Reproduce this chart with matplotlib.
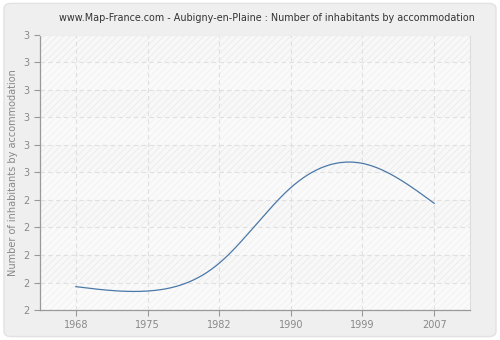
import numpy as np
import matplotlib
matplotlib.use("Agg")
import matplotlib.pyplot as plt
from matplotlib.patches import FancyBboxPatch

years = ["1968", "1975", "1982", "1990", "1999", "2007"]
values = [2.085, 2.069, 2.17, 2.445, 2.533, 2.388]
ytick_vals = [2.0, 2.1, 2.2, 2.3, 2.4, 2.5, 2.6, 2.7, 2.8, 2.9, 3.0]
ytick_labels = ["2", "2", "2", "2", "2", "3", "3", "3", "3", "3", "3"]

title = "www.Map-France.com - Aubigny-en-Plaine : Number of inhabitants by accommodation"
ylabel = "Number of inhabitants by accommodation"


def natural_spline(x, y, xs):
    x = np.asarray(x, float); y = np.asarray(y, float)
    n = len(x)
    h = np.diff(x)
    A = np.zeros((n, n)); b = np.zeros(n)
    A[0, 0] = 1; A[-1, -1] = 1
    for i in range(1, n - 1):
        A[i, i - 1] = h[i - 1]
        A[i, i] = 2 * (h[i - 1] + h[i])
        A[i, i + 1] = h[i]
        b[i] = 3 * ((y[i + 1] - y[i]) / h[i] - (y[i] - y[i - 1]) / h[i - 1])
    c = np.linalg.solve(A, b)
    out = np.empty_like(xs)
    for k, xv in enumerate(xs):
        i = min(max(np.searchsorted(x, xv) - 1, 0), n - 2)
        bi = (y[i + 1] - y[i]) / h[i] - h[i] * (2 * c[i] + c[i + 1]) / 3
        di = (c[i + 1] - c[i]) / (3 * h[i])
        t = xv - x[i]
        out[k] = y[i] + bi * t + c[i] * t ** 2 + di * t ** 3
    return out


plt.rcParams['hatch.linewidth'] = 0.5
fig = plt.figure(figsize=(5, 3.4), dpi=100)
fig.patch.set_facecolor("white")
bg = FancyBboxPatch((0.008, 0.01), 0.984, 0.98, boxstyle="round,pad=0,rounding_size=0.015",
                    transform=fig.transFigure, facecolor="#efefef", edgecolor="#e2e2e2",
                    linewidth=1.0, zorder=-10)
fig.patches.append(bg)

ax = fig.add_axes([0.08, 0.0882, 0.86, 0.809])
ax.set_facecolor("#fafafa")

xi = np.arange(len(years))
ax.set_xlim(-0.5, len(years) - 0.5)
ax.set_ylim(ytick_vals[0], ytick_vals[-1])

# alternating hatched bands
for k in range(len(ytick_vals) - 1):
    if k % 2 == 1:
        ax.axhspan(ytick_vals[k], ytick_vals[k + 1], facecolor="#f8f8f8", edgecolor="#e8e8e8",
                   hatch="/////", linewidth=0, zorder=0)
    else:
        ax.axhspan(ytick_vals[k], ytick_vals[k + 1], facecolor="#fafafa", edgecolor="#f0f0f0",
                   hatch="/////", linewidth=0, zorder=0)

xs = np.linspace(0, len(years) - 1, 400)
ax.plot(xs, natural_spline(xi, values, xs), color="#4a78a8", linewidth=0.9, zorder=3)

ax.set_xticks(xi)
ax.set_xticklabels(years)
ax.set_yticks(ytick_vals)
ax.set_yticklabels(ytick_labels)
ax.grid(True, color="#e0e0e0", linestyle=(0, (4, 3)), linewidth=0.8, zorder=1)
ax.set_axisbelow(True)

for s in ["left", "bottom"]:
    ax.spines[s].set_color("#999999")
    ax.spines[s].set_linewidth(0.9)
ax.spines["right"].set_color("#dddddd")
ax.spines["top"].set_color("#eeeeee")
ax.tick_params(axis="both", colors="#999999", labelcolor="#888888", labelsize=7, length=4, width=0.8)
ax.tick_params(axis="x", pad=3)

ax.set_ylabel(ylabel, color="#888888", fontsize=7, labelpad=4)
fig.text(0.534, 0.948, title, ha="center", va="center", fontsize=6.9, color="#333333")

fig.savefig("out.png", dpi=100, facecolor=fig.get_facecolor())
